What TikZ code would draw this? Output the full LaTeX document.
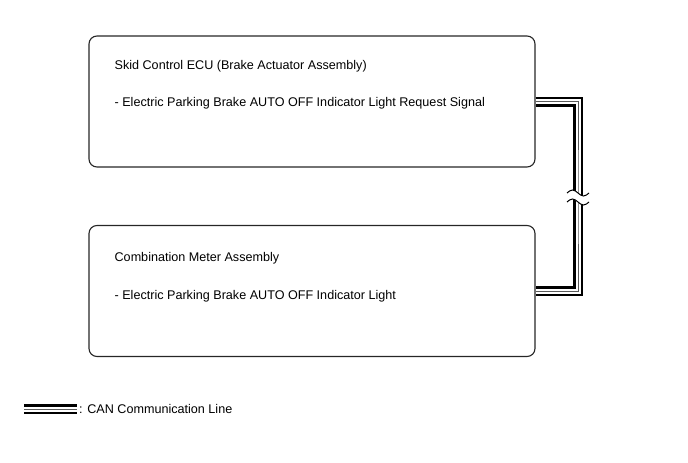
\documentclass[tikz,border=0pt]{standalone}
\usepackage{fontspec}
\setmainfont{Liberation Sans}
\usetikzlibrary{positioning, calc}
\tikzset{
  unit/.style={rectangle, rounded corners=8pt, draw=black!85, line width=1.1pt,
               minimum width=446pt, minimum height=131pt, inner sep=0pt},
  txt/.style={font=\fontsize{12.6}{14}\selectfont, anchor=west, inner sep=0pt},
  can/.style={draw=black!65, line width=1pt, line join=miter,
              preaction={draw=black, line width=10pt},
              preaction={draw=white, line width=5pt}},
  brkmark/.style={draw=black, line width=1pt}
}
\begin{document}
\begin{tikzpicture}[x=1pt, y=-1pt]
\useasboundingbox (0,0) rectangle (688,463);
% ECU boxes
\node[unit] (skid) at (312,101.5) {};
\node[unit] (meter) at (312,291) {};
\node[txt] (skidname) at ($(skid.north west)+(26,30.5)$) {Skid Control ECU (Brake Actuator Assembly)};
\node[txt] (skidsig) at ($(skid.north west)+(26,67.5)$) {- Electric Parking Brake AUTO OFF Indicator Light Request Signal};
\node[txt] (metername) at ($(meter.north west)+(26,33)$) {Combination Meter Assembly};
\node[txt] (metersig) at ($(meter.north west)+(26,71)$) {- Electric Parking Brake AUTO OFF Indicator Light};
% CAN line with break
\coordinate (brk) at (578,197.5);
\draw[can] (skid.east) -| (brk) |- (meter.east);
\fill[white] ($(brk)+(-12,-4.5)$) sin ++(6,-3) cos ++(6,3) sin ++(6,3) cos ++(6,-3)
  -- ++(0,9) sin ++(-6,3) cos ++(-6,-3) sin ++(-6,-3) cos ++(-6,3) -- cycle;
\draw[brkmark] ($(brk)+(-11,-4.5)$) sin ++(5.5,-3) cos ++(5.5,3) sin ++(5.5,3) cos ++(5.5,-3);
\draw[brkmark] ($(brk)+(-11,4.5)$) sin ++(5.5,-3) cos ++(5.5,3) sin ++(5.5,3) cos ++(5.5,-3);
% legend
\coordinate (lgA) at (24,409);
\coordinate (lgB) at (77,409);
\draw[can] (lgA) -- (lgB);
\node[txt, right=2pt of lgB] (lgtxt) {: CAN Communication Line};
\end{tikzpicture}
\end{document}
